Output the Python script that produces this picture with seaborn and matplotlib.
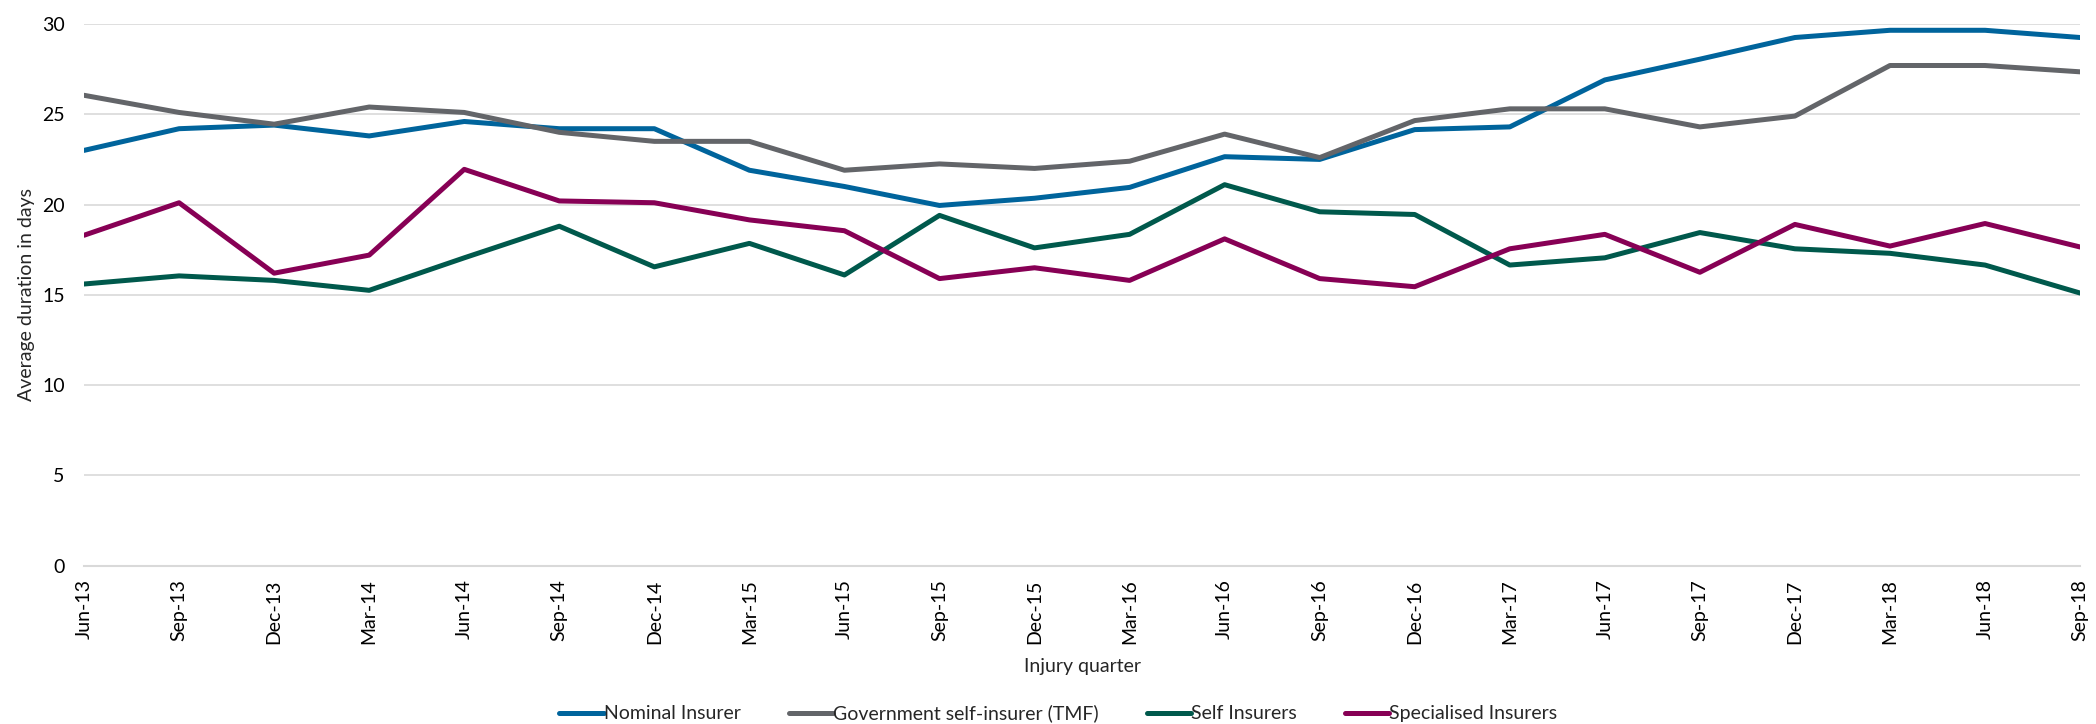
import numpy as np
import pandas as pd
import matplotlib
matplotlib.use("Agg")
import matplotlib.pyplot as plt
import seaborn as sns
from matplotlib.lines import Line2D

# quarters of injury
quarters = ["Jun-13", "Sep-13", "Dec-13", "Mar-14", "Jun-14", "Sep-14", "Dec-14",
            "Mar-15", "Jun-15", "Sep-15", "Dec-15", "Mar-16", "Jun-16", "Sep-16",
            "Dec-16", "Mar-17", "Jun-17", "Sep-17", "Dec-17", "Mar-18", "Jun-18", "Sep-18"]

# average duration in days
nominal = [23.0, 24.2, 24.4, 23.8, 24.6, 24.2, 24.2, 21.9, 21.0, 19.95, 20.35, 20.95,
           22.65, 22.5, 24.15, 24.3, 26.9, 28.05, 29.25, 29.65, 29.65, 29.25]
government = [26.05, 25.1, 24.45, 25.4, 25.1, 24.0, 23.5, 23.5, 21.9, 22.25, 22.0, 22.4,
              23.9, 22.6, 24.65, 25.3, 25.3, 24.3, 24.9, 27.7, 27.7, 27.35]
self_ins = [15.6, 16.05, 15.8, 15.25, 17.05, 18.8, 16.55, 17.85, 16.1, 19.4, 17.6, 18.35,
            21.1, 19.6, 19.45, 16.65, 17.05, 18.45, 17.55, 17.3, 16.65, 15.1]
specialised = [18.3, 20.1, 16.2, 17.2, 21.95, 20.2, 20.1, 19.15, 18.55, 15.9, 16.5, 15.8,
               18.1, 15.9, 15.45, 17.55, 18.35, 16.25, 18.9, 17.7, 18.95, 17.65]

series_names = ["Nominal Insurer", "Government self-insurer (TMF)", "Self Insurers",
                "Specialised Insurers"]
colours = ["#00649C", "#636569", "#00594C", "#870055"]

df = pd.DataFrame({"Quarter": quarters,
                   series_names[0]: nominal,
                   series_names[1]: government,
                   series_names[2]: self_ins,
                   series_names[3]: specialised})
long_df = df.melt(id_vars="Quarter", var_name="Insurer", value_name="Days")

sns.set_style("white")
plt.rcParams["font.family"] = ["Lato", "DejaVu Sans"]
fs = 14
lw = 3.6

fig = plt.figure(figsize=(20.96, 7.24), dpi=100)
ax = fig.add_axes([0.0401, 0.2186, 0.9523, 0.7483])

sns.lineplot(data=long_df, x="Quarter", y="Days", hue="Insurer",
             hue_order=series_names, palette=colours, linewidth=lw,
             sort=False, ax=ax, legend=False)

ax.set_xlim(0, len(quarters) - 1)
ax.set_ylim(0, 30)
ax.set_yticks(np.arange(0, 31, 5))
ax.yaxis.grid(True, color="#d9d9d9", linewidth=1.2)
ax.set_axisbelow(True)
for s in ["top", "right", "left"]:
    ax.spines[s].set_visible(False)
ax.spines["bottom"].set_color("#d9d9d9")
ax.spines["bottom"].set_linewidth(1.5)

ax.set_xticks(range(len(quarters)))
ax.set_xticklabels(quarters, rotation=90)
ax.tick_params(axis="x", direction="inout", length=8.6, width=1.2, color="#d9d9d9",
               pad=5.5, labelsize=fs, labelcolor="black")
ax.tick_params(axis="y", length=0, pad=14, labelsize=fs, labelcolor="black")

ax.set_xlabel("Injury quarter", fontsize=fs, labelpad=10)
ax.set_ylabel("Average duration in days", fontsize=fs, labelpad=5)

handles = [Line2D([0], [0], color=c, linewidth=lw) for c in colours]
fig.legend(handles, series_names, loc="lower center", bbox_to_anchor=(0.505, -0.022),
           ncol=4, frameon=False, fontsize=fs, handlelength=2.3, handletextpad=0,
           columnspacing=2.45)

plt.savefig("out.png", dpi=100)
